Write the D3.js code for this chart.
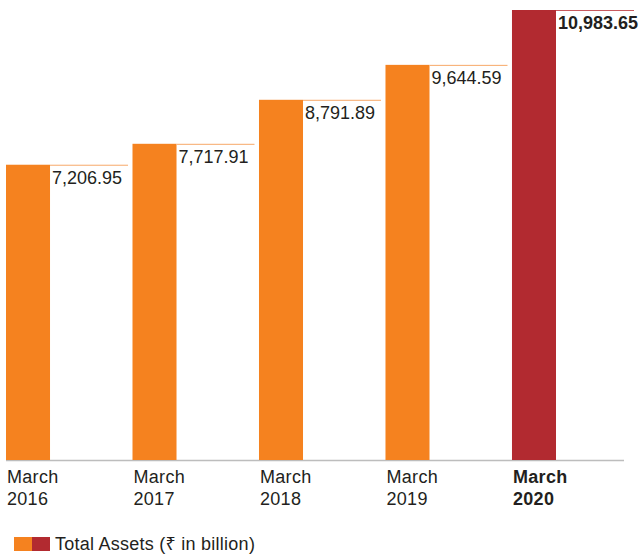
<!DOCTYPE html>
<html><head><meta charset="utf-8">
<script src="https://cdn.jsdelivr.net/npm/d3@7"></script>
<style>
body{margin:0;background:#fff;}
svg{display:block;font-family:"Liberation Sans",Arial,"Noto Sans",sans-serif;}
</style></head>
<body><svg id="c" width="641" height="554"></svg>
<script>
const categories = ["March 2016","March 2017","March 2018","March 2019","March 2020"];
const values = [7206.95, 7717.91, 8791.89, 9644.59, 10983.65];
const valueLabels = ["7,206.95","7,717.91","8,791.89","9,644.59","10,983.65"];
const highlight = [false,false,false,false,true];
const legendLabel = "Total Assets (₹ in billion)";

const orange = "#f5821f", red = "#b22a30";
const svg = d3.select("#c");
const baseY = 460;
const x = d3.scaleBand().domain(categories).range([6, 556]).paddingInner(0.652).paddingOuter(0).align(0);
const y = d3.scaleLinear().domain([0, 10983.65]).range([baseY, 10]);

// axis line
svg.append("line").attr("x1",6).attr("x2",624).attr("y1",baseY+0.5).attr("y2",baseY+0.5)
  .attr("stroke","#bdbdbd").attr("stroke-width",1.5);

const g = svg.append("g");
categories.forEach((c,i)=>{
  const col = highlight[i] ? red : orange;
  g.append("rect").attr("x",x(c)).attr("y",y(values[i])).attr("width",x.bandwidth())
    .attr("height",baseY - y(values[i])).attr("fill",col);
  g.append("line").attr("x1",x(c)+x.bandwidth()).attr("x2",x(c)+x.bandwidth()+78)
    .attr("y1",y(values[i])+0.5).attr("y2",y(values[i])+0.5)
    .attr("stroke", highlight[i] ? "#c85a5f" : "#f7a868").attr("stroke-width",1);
  g.append("text").attr("x",x(c)+x.bandwidth()+2).attr("y",y(values[i])+19)
    .attr("font-size",18).attr("fill","#231f20")
    .attr("font-weight",highlight[i]?"bold":"normal").text(valueLabels[i]);
  const parts = c.split(" ");
  const t = g.append("text").attr("x",x(c)+1).attr("y",baseY+23).attr("font-size",18)
    .attr("letter-spacing",0.3)
    .attr("fill","#231f20").attr("font-weight",highlight[i]?"bold":"normal");
  parts.forEach((p,k)=>t.append("tspan").attr("x",x(c)+1).attr("dy",k?22:0).text(p));
});

// legend
svg.append("rect").attr("x",14).attr("y",537).attr("width",18).attr("height",14).attr("fill",orange);
svg.append("rect").attr("x",32).attr("y",537).attr("width",18).attr("height",14).attr("fill",red);
svg.append("text").attr("x",55).attr("y",550).attr("font-size",18).attr("letter-spacing",0.25)
  .attr("fill","#231f20").text(legendLabel);
</script></body></html>
